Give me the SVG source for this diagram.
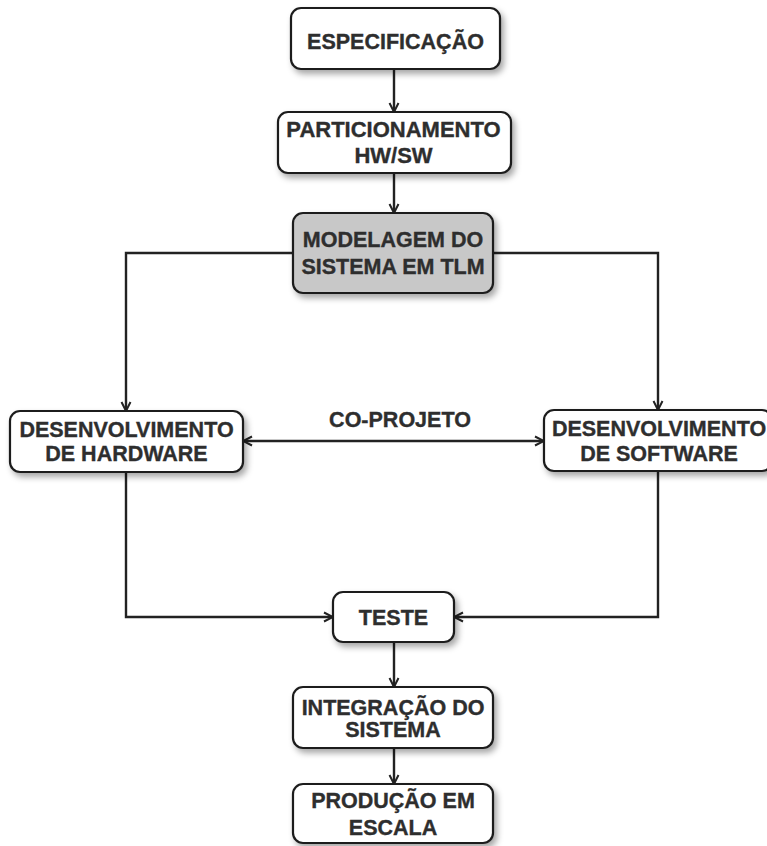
<svg xmlns="http://www.w3.org/2000/svg" width="767" height="846" viewBox="0 0 767 846">
  <style>
    .box { fill: #ffffff; stroke: #1e1e1e; stroke-width: 2.2; filter: url(#shadow); }
    .box.grey { fill: #c8c8c8; }
    .lbl { font-family: "Liberation Sans", Arial, sans-serif; font-weight: bold; font-size: 21.5px; fill: #2e2e2e; stroke: #2e2e2e; stroke-width: 0.35; text-anchor: middle; }
    .wire { fill: none; stroke: #222222; stroke-width: 2.4; }
  </style>
  <defs>
    <filter id="shadow" x="-10%" y="-15%" width="125%" height="140%">
      <feDropShadow dx="3" dy="4" stdDeviation="3" flood-color="#000000" flood-opacity="0.35"/>
    </filter>
    <marker id="arrow" viewBox="0 0 12 12" refX="11" refY="6" markerWidth="12" markerHeight="12" markerUnits="userSpaceOnUse" orient="auto-start-reverse">
      <path d="M2,1.5 L11,6 L2,10.5" fill="none" stroke="#222222" stroke-width="2"/>
    </marker>
  </defs>

  <rect width="767" height="846" fill="#ffffff"/>

  <g id="connectors">
    <line class="wire" x1="394" y1="69" x2="394" y2="112" marker-end="url(#arrow)"/>
    <line class="wire" x1="394" y1="173" x2="394" y2="213" marker-end="url(#arrow)"/>
    <polyline class="wire" points="293,253 126,253 126,411" marker-end="url(#arrow)"/>
    <polyline class="wire" points="493,253 658,253 658,410" marker-end="url(#arrow)"/>
    <line class="wire" x1="243" y1="441" x2="544" y2="441" marker-start="url(#arrow)" marker-end="url(#arrow)"/>
    <polyline class="wire" points="126,472 126,617 333,617" marker-end="url(#arrow)"/>
    <polyline class="wire" points="658,471 658,617 454,617" marker-end="url(#arrow)"/>
    <line class="wire" x1="394" y1="642" x2="394" y2="687" marker-end="url(#arrow)"/>
    <line class="wire" x1="394" y1="748" x2="394" y2="784" marker-end="url(#arrow)"/>
    <text class="lbl" x="400" y="427">CO-PROJETO</text>
  </g>

  <g id="especificacao">
    <rect class="box" x="291" y="8" width="209" height="61" rx="10"/>
    <text class="lbl" x="395.5" y="49">ESPECIFICAÇÃO</text>
  </g>

  <g id="particionamento">
    <rect class="box" x="278" y="112" width="233" height="61" rx="10"/>
    <text class="lbl" x="393.5" y="137" style="font-size:22px">PARTICIONAMENTO</text>
    <text class="lbl" x="393.5" y="163" style="font-size:22px">HW/SW</text>
  </g>

  <g id="modelagem">
    <rect class="box grey" x="293" y="213" width="200" height="80" rx="10"/>
    <text class="lbl" x="393" y="247">MODELAGEM DO</text>
    <text class="lbl" x="393" y="274">SISTEMA EM TLM</text>
  </g>

  <g id="hardware">
    <rect class="box" x="10" y="411" width="233" height="61" rx="10"/>
    <text class="lbl" x="126.5" y="437">DESENVOLVIMENTO</text>
    <text class="lbl" x="126.5" y="461">DE HARDWARE</text>
  </g>

  <g id="software">
    <rect class="box" x="544" y="410" width="228" height="61" rx="10"/>
    <text class="lbl" x="659" y="436">DESENVOLVIMENTO</text>
    <text class="lbl" x="659" y="461">DE SOFTWARE</text>
  </g>

  <g id="teste">
    <rect class="box" x="333" y="592" width="121" height="50" rx="10"/>
    <text class="lbl" x="393.5" y="625">TESTE</text>
  </g>

  <g id="integracao">
    <rect class="box" x="293" y="687" width="200" height="61" rx="10"/>
    <text class="lbl" x="393" y="715">INTEGRAÇÃO DO</text>
    <text class="lbl" x="393" y="737">SISTEMA</text>
  </g>

  <g id="producao">
    <rect class="box" x="293" y="784" width="200" height="59" rx="10"/>
    <text class="lbl" x="393" y="808">PRODUÇÃO EM</text>
    <text class="lbl" x="393" y="835">ESCALA</text>
  </g>
</svg>
